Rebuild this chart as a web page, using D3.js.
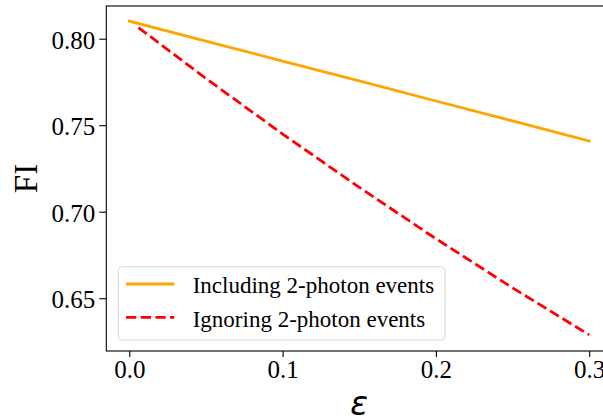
<!DOCTYPE html>
<html>
<head>
<meta charset="utf-8">
<script src="https://cdn.jsdelivr.net/npm/d3@7"></script>
<style>
  html, body { margin: 0; padding: 0; background: #fff; }
  svg { display: block; }
</style>
</head>
<body>
<svg id="chart" width="603" height="420"></svg>
<script>
// ---- data ----
const epsIncluding = [0.0, 0.05, 0.10, 0.15, 0.20, 0.25, 0.30];
const fiIncluding  = [0.8101, 0.7986, 0.7871, 0.7756, 0.7640, 0.7525, 0.7409];
const epsIgnoring  = [0.006, 0.05, 0.10, 0.15, 0.20, 0.25, 0.30];
const fiIgnoring   = [0.8064, 0.7770, 0.7449, 0.7141, 0.6844, 0.6560, 0.6288];
const xTicks = [0.0, 0.1, 0.2, 0.3];
const yTicks = [0.65, 0.70, 0.75, 0.80];
const seriesNames = ["Including 2-photon events", "Ignoring 2-photon events"];

// ---- layout ----
const svg = d3.select("#chart");
const L = 106.3, R = 612.2, T = 6, B = 351;
const x = d3.scaleLinear().domain([-0.015, 0.315]).range([L, R]);
const y = d3.scaleLinear().domain([0.6195, 0.8189]).range([B, T]);
const serif = "'Liberation Serif', 'Times New Roman', serif";

const clip = svg.append("clipPath").attr("id", "plotclip")
  .append("rect").attr("x", L).attr("y", T).attr("width", R - L).attr("height", B - T);

const line = d3.line().x(d => x(d[0])).y(d => y(d[1]));

const g = svg.append("g").attr("clip-path", "url(#plotclip)");
g.append("path")
  .datum(epsIncluding.map((e, i) => [e, fiIncluding[i]]))
  .attr("d", line)
  .attr("fill", "none").attr("stroke", "orange").attr("stroke-width", 2.8)
  .attr("stroke-linecap", "square");
g.append("path")
  .datum(epsIgnoring.map((e, i) => [e, fiIgnoring[i]]))
  .attr("d", line)
  .attr("fill", "none").attr("stroke", "red").attr("stroke-width", 2.8)
  .attr("stroke-dasharray", "10.3,4.4");

// ---- axes ----
const xAxis = svg.append("g").attr("transform", `translate(0,${B})`)
  .call(d3.axisBottom(x).tickValues(xTicks).tickFormat(d3.format(".1f")).tickSize(6).tickPadding(3.3).tickSizeOuter(0));
const yAxis = svg.append("g").attr("transform", `translate(${L},0)`)
  .call(d3.axisLeft(y).tickValues(yTicks).tickFormat(d3.format(".2f")).tickSize(7).tickPadding(4).tickSizeOuter(0));
[xAxis, yAxis].forEach(a => {
  a.select(".domain").remove();
  a.selectAll(".tick line").attr("stroke", "#000").attr("stroke-width", 1.1);
  a.selectAll(".tick text").attr("fill", "#000").attr("font-family", serif).attr("font-size", 25);
});
yAxis.selectAll(".tick text").attr("dy", "0.38em");

// spines
svg.append("rect").attr("x", L).attr("y", T).attr("width", R - L).attr("height", B - T)
  .attr("fill", "none").attr("stroke", "#000").attr("stroke-width", 1.1);

// axis labels
svg.append("text").attr("transform", `translate(37,${(T + B) / 2}) rotate(-90)`)
  .attr("text-anchor", "middle").attr("font-family", serif).attr("font-size", 33).text("FI");
svg.append("text").attr("x", (L + R) / 2).attr("y", 415)
  .attr("text-anchor", "middle").attr("font-family", "'DejaVu Sans', sans-serif")
  .attr("font-style", "italic").attr("font-size", 33).text("ε");

// ---- legend ----
const lg = svg.append("g");
lg.append("rect").attr("x", 118.3).attr("y", 266.7).attr("width", 326.7).attr("height", 73.3)
  .attr("rx", 4).attr("fill", "#fff").attr("fill-opacity", 0.8)
  .attr("stroke", "#d8d8d8").attr("stroke-width", 1);
const legendItems = [
  { name: seriesNames[0], color: "orange", dash: null, yLine: 284, yText: 293.4 },
  { name: seriesNames[1], color: "red", dash: "10.3,4.4", yLine: 317.3, yText: 326.7 }
];
legendItems.forEach(it => {
  lg.append("line").attr("x1", 126).attr("x2", 174.3).attr("y1", it.yLine).attr("y2", it.yLine)
    .attr("stroke", it.color).attr("stroke-width", 2.8)
    .attr("stroke-dasharray", it.dash);
  lg.append("text").attr("x", 192.7).attr("y", it.yText)
    .attr("font-family", serif).attr("font-size", 23).text(it.name);
});
</script>
</body>
</html>
